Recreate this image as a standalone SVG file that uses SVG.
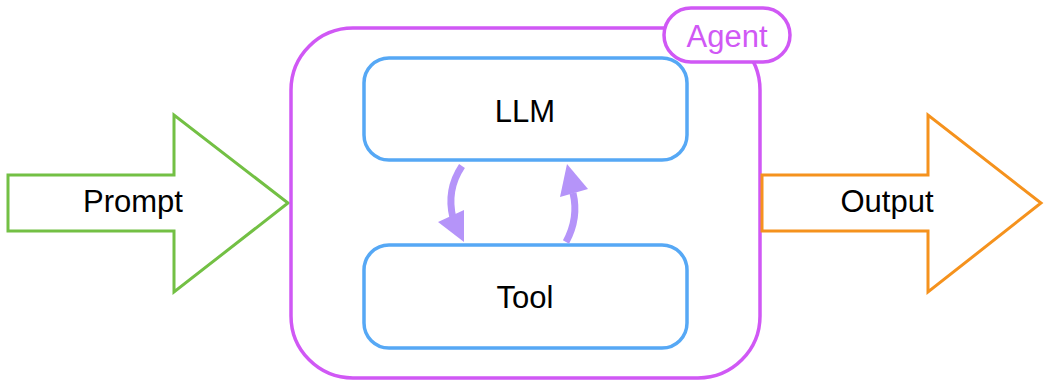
<svg xmlns="http://www.w3.org/2000/svg" width="1046" height="386" viewBox="0 0 1046 386">
<style>
.lbl{font-family:"Liberation Sans",Arial,Helvetica,sans-serif;font-size:31px;fill:#000;text-anchor:middle}
.inner{fill:#fff;stroke:#56a8f5;stroke-width:3.5}
.loop{fill:none;stroke:#b594f9;stroke-width:7}
.head{fill:#b594f9;stroke:none}
</style>
<rect width="1046" height="386" fill="#fff"/>
<g id="prompt">
<polygon points="8,175 174,175 174,115 288,203 174,292 174,231 8,231" fill="#fff" stroke="#73c044" stroke-width="3"/>
<text class="lbl" x="133" y="212">Prompt</text>
</g>
<g id="agent">
<rect x="291" y="28" width="469" height="350" rx="62" ry="62" fill="#fff" stroke="#d058f5" stroke-width="3.5"/>
<rect x="664" y="8" width="126" height="54" rx="27" ry="27" fill="#fff" stroke="#d058f5" stroke-width="3.5"/>
<text class="lbl" x="727" y="47" style="fill:#d058f5">Agent</text>
</g>
<g id="llm">
<rect class="inner" x="364" y="58" width="323" height="102" rx="25" ry="25"/>
<text class="lbl" x="525" y="122">LLM</text>
</g>
<g id="tool">
<rect class="inner" x="364" y="245" width="323" height="103" rx="25" ry="25"/>
<text class="lbl" x="525" y="308">Tool</text>
</g>
<g id="output">
<polygon points="762,175 928,175 928,115 1041,203 928,292 928,231 762,231" fill="#fff" stroke="#f5921d" stroke-width="3"/>
<text class="lbl" x="887" y="212">Output</text>
</g>
<g id="connectors">
<path class="loop" d="M462,166 Q446,190 453,218"/>
<polygon class="head" points="438,222 464,210 464,242"/>
<path class="loop" d="M566,242 Q579,218 573,193"/>
<polygon class="head" points="560,197 588,189 567,164"/>
</g>
</svg>
